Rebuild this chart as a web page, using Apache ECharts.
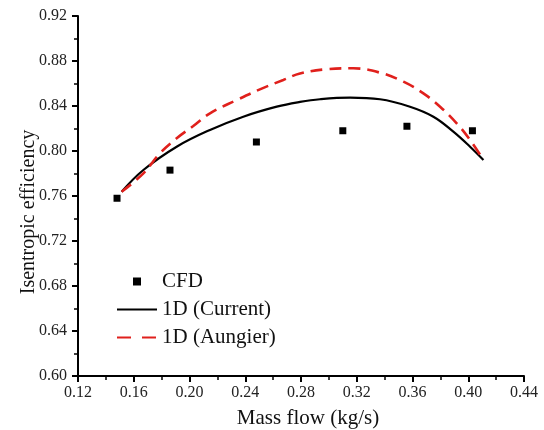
<!DOCTYPE html>
<html><head><meta charset="utf-8">
<script src="https://cdn.jsdelivr.net/npm/echarts@6/dist/echarts.min.js"></script>
<style>html,body{margin:0;padding:0;background:#fff}#c{width:544px;height:430px}</style>
</head><body><div id="c"></div>
<script>
const cfdX = [0.148, 0.186, 0.248, 0.310, 0.356, 0.403];
const cfdY = [0.758, 0.783, 0.808, 0.818, 0.822, 0.818];
const curX = [0.1513, 0.1669, 0.1908, 0.2147, 0.2386, 0.2626, 0.2793, 0.2936, 0.3152, 0.3367, 0.3582, 0.375, 0.3893, 0.4013, 0.4109];
const curY = [0.7638, 0.7831, 0.8038, 0.8187, 0.8305, 0.8394, 0.8436, 0.846, 0.8474, 0.846, 0.8394, 0.8305, 0.8172, 0.8038, 0.792];
const aunX = [0.1513, 0.1669, 0.1788, 0.1908, 0.2027, 0.2147, 0.2339, 0.2505, 0.2673, 0.2793, 0.2984, 0.3175, 0.3367, 0.3535, 0.3678, 0.3798, 0.3917, 0.4013, 0.4109];
const aunY = [0.7638, 0.7801, 0.798, 0.8113, 0.8222, 0.8335, 0.8453, 0.8548, 0.8631, 0.8689, 0.8727, 0.8735, 0.8696, 0.8616, 0.8512, 0.8394, 0.8246, 0.8098, 0.792];
const xTicks = {min: 0.12, max: 0.44, interval: 0.04};
const yTicks = {min: 0.60, max: 0.92, interval: 0.04};

const pair = (xs, ys) => xs.map((x, i) => [x, ys[i]]);
const font = 'Liberation Serif';
const axisCommon = {
  axisLine: {show: true, onZero: false, lineStyle: {color: '#000', width: 2}},
  axisTick: {show: true, inside: false, length: 6, lineStyle: {color: '#000', width: 2}},
  minorTick: {show: true, splitNumber: 2, length: 4, lineStyle: {color: '#000', width: 1.5}},
  splitLine: {show: false},
  minorSplitLine: {show: false},
  nameMoveOverlap: false,
  axisLabel: {color: '#222', fontFamily: font, fontSize: 16, formatter: v => v.toFixed(2)},
  nameTextStyle: {color: '#111', fontFamily: font, fontSize: 20}
};
const chart = echarts.init(document.getElementById('c'), null, {renderer: 'canvas'});
chart.setOption({
  animation: false,
  grid: {left: 78, right: 20, top: 16, bottom: 54, containLabel: false, outerBoundsMode: 'none'},
  xAxis: Object.assign({type: 'value', name: 'Mass flow (kg/s)', nameLocation: 'middle', nameGap: 32}, xTicks, axisCommon,
    {axisLabel: Object.assign({}, axisCommon.axisLabel, {margin: 9}),
     nameTextStyle: Object.assign({}, axisCommon.nameTextStyle, {fontSize: 21, padding: [0, 0, 0, 14]})}),
  yAxis: Object.assign({type: 'value', name: 'Isentropic efficiency', nameLocation: 'middle', nameGap: 39}, yTicks, axisCommon,
    {axisLabel: Object.assign({}, axisCommon.axisLabel, {margin: 11}),
     nameTextStyle: Object.assign({}, axisCommon.nameTextStyle, {padding: [0, 32, 0, 0]})}),
  legend: {
    orient: 'vertical', left: 116, top: 271, padding: 0, itemGap: 7, itemWidth: 40, itemHeight: 14,
    textStyle: {fontFamily: font, fontSize: 21, color: '#111'},
    data: [
      {name: 'CFD', icon: 'path://M0,0M40,14M16,3h8v8h-8z'},
      {name: '1D (Current)', itemStyle: {opacity: 0}},
      {name: '1D (Aungier)', itemStyle: {opacity: 0}, lineStyle: {type: [14, 11]}}
    ]
  },
  series: [
    {name: 'CFD', type: 'scatter', data: pair(cfdX, cfdY), symbol: 'rect', symbolSize: 7, itemStyle: {color: '#000', opacity: 1}, z: 5},
    {name: '1D (Current)', type: 'line', smooth: 0.4, symbol: 'none', data: pair(curX, curY), lineStyle: {color: '#000', width: 2.2}, itemStyle: {color: '#000'}},
    {name: '1D (Aungier)', type: 'line', smooth: 0.4, symbol: 'none', data: pair(aunX, aunY), lineStyle: {color: '#e0201c', width: 2.6, type: [12, 7]}, itemStyle: {color: '#e0201c'}}
  ]
});
</script></body></html>
